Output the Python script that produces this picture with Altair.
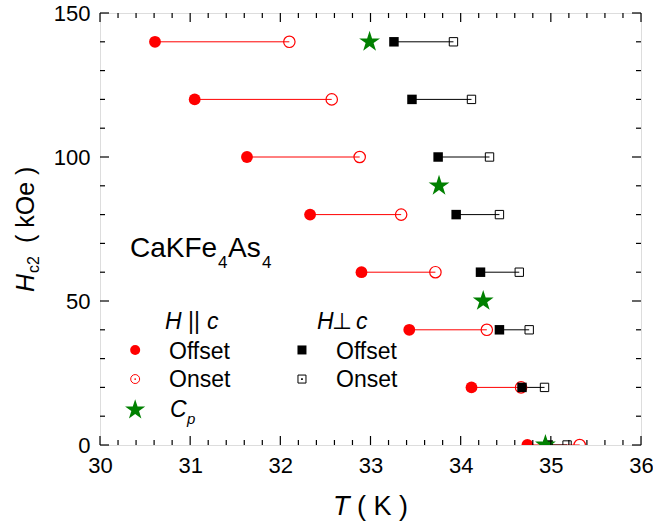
import altair as alt
import pandas as pd

# ---------------- data ----------------
H_field = [140, 120, 100, 80, 60, 40, 20, 0]
par_offset = [30.61, 31.05, 31.63, 32.33, 32.90, 33.43, 34.12, 34.74]
par_onset = [32.10, 32.57, 32.88, 33.34, 33.72, 34.29, 34.67, 35.32]
perp_offset = [33.26, 33.46, 33.75, 33.95, 34.22, 34.43, 34.68, 34.97]
perp_onset = [33.92, 34.12, 34.32, 34.43, 34.65, 34.76, 34.93, 35.18]
cp_T = [32.99, 33.76, 34.25, 34.94]
cp_H = [140, 90, 50, 0]

x_major = [30, 31, 32, 33, 34, 35, 36]
x_minor = [round(30 + 0.2 * i, 1) for i in range(31) if i % 5 != 0]
y_major = [0, 50, 100, 150]
y_minor = [v for v in range(0, 151, 10) if v % 50 != 0]

# legend symbol anchors (in data units)
leg_T_par = [30.39]
leg_T_perp = [32.24]
leg_H_offset = [33.0]
leg_H_onset = [22.9]
leg_H_cp = [12.2]

# ---------------- styles ----------------
FONT = "Liberation Sans"
RED = "#FF0000"
GREEN = "#008000"
W, H = 541, 432
STAR = ("M0,-1 L0.2245,-0.309 L0.951,-0.309 L0.363,0.118 L0.588,0.809 "
        "L0,0.382 L-0.588,0.809 L-0.363,0.118 L-0.951,-0.309 L-0.2245,-0.309 Z")

xscale = alt.Scale(domain=[30, 36], nice=False, zero=False)
yscale = alt.Scale(domain=[0, 150], nice=False, zero=False)
xaxis = alt.Axis(values=x_major, format="d", title=None, grid=False, ticks=False,
                 domain=False, labelFont=FONT, labelFontSize=22, labelColor="black",
                 labelPadding=10, labelFlush=False, labelOverlap=False)
yaxis = alt.Axis(values=y_major, format="d", title=None, grid=False, ticks=False,
                 domain=False, labelFont=FONT, labelFontSize=22, labelColor="black",
                 labelPadding=10, labelFlush=False, labelOverlap=False)


def X(f):
    return alt.X(f, type="quantitative", scale=xscale, axis=xaxis)


def Y(f):
    return alt.Y(f, type="quantitative", scale=yscale, axis=yaxis)


par = pd.DataFrame({"H": H_field, "off": par_offset, "on": par_onset})
perp = pd.DataFrame({"H": H_field, "off": perp_offset, "on": perp_onset})
cp = pd.DataFrame({"T": cp_T, "H": cp_H})

layers = []
# connecting lines
layers.append(alt.Chart(par).mark_rule(color=RED, strokeWidth=1, clip=True)
              .encode(x=X("off"), x2="on", y=Y("H")))
layers.append(alt.Chart(perp).mark_rule(color="black", strokeWidth=1, clip=True)
              .encode(x=X("off"), x2="on", y=Y("H")))
# H || c
layers.append(alt.Chart(par).mark_point(shape="circle", filled=True, color=RED, size=140,
                                        opacity=1, clip=True)
              .encode(x=X("off"), y=Y("H")))
layers.append(alt.Chart(par).mark_point(shape="circle", filled=False, color=RED, size=130,
                                        strokeWidth=1.2, opacity=1, clip=True)
              .encode(x=X("on"), y=Y("H")))
# H perp c
layers.append(alt.Chart(perp).mark_point(shape="square", filled=True, color="black", size=90,
                                         opacity=1, clip=True)
              .encode(x=X("off"), y=Y("H")))
layers.append(alt.Chart(perp).mark_point(shape="square", filled=False, color="black", size=70,
                                         strokeWidth=1, opacity=1, clip=True)
              .encode(x=X("on"), y=Y("H")))
# Cp stars
layers.append(alt.Chart(cp).mark_point(shape=STAR, filled=True, color=GREEN, size=480,
                                       opacity=1, clip=True)
              .encode(x=X("T"), y=Y("H")))

# legend symbols
lg_par_off = pd.DataFrame({"T": leg_T_par, "H": leg_H_offset})
lg_par_on = pd.DataFrame({"T": leg_T_par, "H": leg_H_onset})
lg_cp = pd.DataFrame({"T": leg_T_par, "H": leg_H_cp})
lg_perp_off = pd.DataFrame({"T": leg_T_perp, "H": leg_H_offset})
lg_perp_on = pd.DataFrame({"T": leg_T_perp, "H": leg_H_onset})
layers.append(alt.Chart(lg_par_off).mark_point(shape="circle", filled=True, color=RED,
                                               size=100, opacity=1)
              .encode(x=X("T"), y=Y("H")))
layers.append(alt.Chart(lg_par_on).mark_point(shape="circle", filled=False, color=RED,
                                              size=80, strokeWidth=1, opacity=1)
              .encode(x=X("T"), y=Y("H")))
layers.append(alt.Chart(lg_par_on).mark_point(shape="circle", filled=True, color=RED,
                                              size=3, opacity=1)
              .encode(x=X("T"), y=Y("H")))
layers.append(alt.Chart(lg_cp).mark_point(shape=STAR, filled=True, color=GREEN,
                                          size=450, opacity=1)
              .encode(x=X("T"), y=Y("H")))
layers.append(alt.Chart(lg_perp_off).mark_point(shape="square", filled=True, color="black",
                                                size=81, opacity=1)
              .encode(x=X("T"), y=Y("H")))
layers.append(alt.Chart(lg_perp_on).mark_point(shape="square", filled=False, color="black",
                                               size=64, strokeWidth=1, opacity=1)
              .encode(x=X("T"), y=Y("H")))
layers.append(alt.Chart(lg_perp_on).mark_point(shape="square", filled=True, color="black",
                                               size=3, opacity=1)
              .encode(x=X("T"), y=Y("H")))

# inward ticks on all four sides
xmaj = pd.DataFrame({"v": x_major})
xmin = pd.DataFrame({"v": x_minor})
ymaj = pd.DataFrame({"v": y_major})
ymin = pd.DataFrame({"v": y_minor})
MAJ, MIN = 9, 5
for df, L in ((xmaj, MAJ), (xmin, MIN)):
    layers.append(alt.Chart(df).mark_rule(color="black", strokeWidth=1.2)
                  .encode(x=X("v"), y=alt.value(H), y2=alt.value(H - L)))
    layers.append(alt.Chart(df).mark_rule(color="black", strokeWidth=1.2)
                  .encode(x=X("v"), y=alt.value(0), y2=alt.value(L)))
for df, L in ((ymaj, MAJ), (ymin, MIN)):
    layers.append(alt.Chart(df).mark_rule(color="black", strokeWidth=1.2)
                  .encode(y=Y("v"), x=alt.value(0), x2=alt.value(L)))
    layers.append(alt.Chart(df).mark_rule(color="black", strokeWidth=1.2)
                  .encode(y=Y("v"), x=alt.value(W), x2=alt.value(W - L)))


def txt(s, x, y, size, style="normal", angle=0):
    return (alt.Chart(alt.Data(values=[{}]))
            .mark_text(text=s, align="left", baseline="alphabetic", font=FONT,
                       fontSize=size, fontStyle=style, angle=angle, color="black")
            .encode(x=alt.value(x), y=alt.value(y)))


# axis titles
layers += [
    txt("T", 233, 502, 27, "italic"),
    txt("( K )", 257, 502, 27),
    txt("H", -66, 279, 25, "italic", 270),
    txt("c2", -61, 260, 16, "normal", 270),
    txt("( kOe )", -66, 230, 25, "normal", 270),
]
# compound label
layers += [
    txt("CaKFe", 30, 244, 28),
    txt("4", 118, 255, 17),
    txt("As", 128, 244, 28),
    txt("4", 162, 255, 17),
]
# legend texts
LF = 23
layers += [
    txt("H", 65, 316, LF, "italic"),
    txt("||", 88, 316, LF),
    txt("c", 107, 316, LF, "italic"),
    txt("H", 217, 316, LF, "italic"),
    txt("\u22a5", 232, 316, LF),
    txt("c", 256, 316, LF, "italic"),
    txt("Offset", 69, 346, LF),
    txt("Onset", 69, 374, LF),
    txt("C", 70, 404, LF, "italic"),
    txt("p", 87, 411, 15, "italic"),
    txt("Offset", 236, 346, LF),
    txt("Onset", 236, 374, LF),
]

chart = (alt.layer(*layers)
         .properties(width=W, height=H,
                     autosize=alt.AutoSizeParams(type="none"),
                     padding={"left": 100, "top": 13, "right": 12, "bottom": 82},
                     background="white")
         .configure_view(stroke="black", strokeWidth=1.5)
         .configure(font=FONT))

chart.save("out.html", embed_options={"renderer": "svg", "actions": False})
